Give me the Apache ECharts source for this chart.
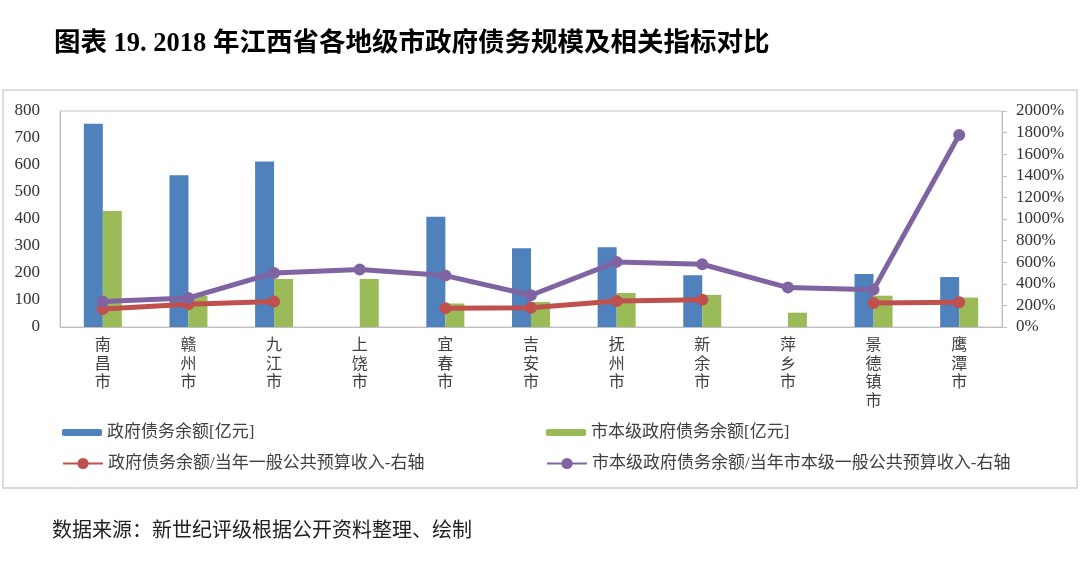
<!DOCTYPE html>
<html>
<head>
<meta charset="utf-8">
<script src="https://cdn.jsdelivr.net/npm/echarts@6/dist/echarts.min.js"></script>
<style>
html,body{margin:0;padding:0;background:#fff;}
#chart{width:1080px;height:570px;}
</style>
</head>
<body>
<div id="chart"></div>
<script>
const categories = ['南昌市','赣州市','九江市','上饶市','宜春市','吉安市','抚州市','新余市','萍乡市','景德镇市','鹰潭市'];
const govDebt = [753, 562, 613, null, 408, 292, 295, 192, null, 196, 185];
const cityDebt = [430, 115, 178, 178, 87, 93, 126, 119, 53, 116, 109];
const govRatio = [167, 210, 235, null, 173, 178, 241, 253, null, 223, 229];
const cityRatio = [235, 269, 500, 532, 476, 294, 603, 581, 365, 346, 1777];
const leftTicks = {min: 0, max: 800, interval: 100};
const rightTicks = {min: 0, max: 2000, interval: 200};

const names = ['政府债务余额[亿元]', '市本级政府债务余额[亿元]', '政府债务余额/当年一般公共预算收入-右轴', '市本级政府债务余额/当年市本级一般公共预算收入-右轴'];
const serif = "'Liberation Serif', 'Noto Sans CJK SC', serif";
const cjk = "'Liberation Serif', 'Noto Sans CJK SC', sans-serif";

const chart = echarts.init(document.getElementById('chart'), null, {renderer: 'canvas'});
const legendText = {fontSize: 17, color: '#404040', fontFamily: cjk};
chart.setOption({
  animation: false,
  backgroundColor: '#fff',
  title: [
    {text: '图表 19. 2018 年江西省各地级市政府债务规模及相关指标对比', left: 54, top: 31, padding: 0,
     textStyle: {fontSize: 26.5, fontWeight: 'bold', color: '#000', fontFamily: serif}},
    {text: '数据来源：新世纪评级根据公开资料整理、绘制', left: 52, top: 522, padding: 0,
     textStyle: {fontSize: 20, fontWeight: 'normal', color: '#222', fontFamily: cjk}}
  ],
  graphic: [
    {type: 'rect', shape: {x: 3, y: 90, width: 1074, height: 398}, style: {fill: 'none', stroke: '#dcdcdc', lineWidth: 2}, z: -1}
  ],
  legend: [
    {data: [names[0]], left: 62, top: 424, padding: 0, itemWidth: 40, itemHeight: 7, itemGap: 4, textStyle: legendText},
    {data: [names[1]], left: 546, top: 424, padding: 0, itemWidth: 40, itemHeight: 7, textStyle: legendText},
    {data: [names[2]], left: 62, top: 455, padding: 0, itemWidth: 40, itemHeight: 14, textStyle: legendText},
    {data: [names[3]], left: 546, top: 455, padding: 0, itemWidth: 40, itemHeight: 14, textStyle: legendText}
  ],
  grid: {left: 60, right: 78, top: 111, bottom: 243, show: true, borderColor: '#c8c8c8', borderWidth: 1, containLabel: false},
  xAxis: {
    type: 'category', data: categories,
    axisLine: {lineStyle: {color: '#bfbfbf'}},
    axisTick: {show: false},
    axisLabel: {
      interval: 0, margin: 10, fontSize: 16, lineHeight: 18.5, color: '#404040', fontFamily: cjk,
      formatter: v => v.split('').join('\n')
    }
  },
  yAxis: [
    {type: 'value', min: leftTicks.min, max: leftTicks.max, interval: leftTicks.interval,
     axisLine: {show: true, lineStyle: {color: '#bfbfbf'}}, axisTick: {show: false}, splitLine: {show: false},
     axisLabel: {fontSize: 17, color: '#333', margin: 20, fontFamily: serif}},
    {type: 'value', position: 'right', min: rightTicks.min, max: rightTicks.max, interval: rightTicks.interval,
     axisLine: {show: true, lineStyle: {color: '#bfbfbf'}}, axisTick: {show: true, length: 5, lineStyle: {color: '#bfbfbf'}},
     splitLine: {show: false},
     axisLabel: {fontSize: 17, color: '#333', margin: 14, fontFamily: serif, formatter: v => v + '%'}}
  ],
  series: [
    {name: names[0], type: 'bar', data: govDebt, barWidth: 19, barGap: '0%', itemStyle: {color: '#4F81BD'}},
    {name: names[1], type: 'bar', data: cityDebt, barWidth: 19, barGap: '0%', itemStyle: {color: '#9BBB59'}},
    {name: names[2], type: 'line', yAxisIndex: 1, data: govRatio, connectNulls: false, symbol: 'circle', symbolSize: 12,
     lineStyle: {width: 5, color: '#C0504D'}, itemStyle: {color: '#C0504D'}},
    {name: names[3], type: 'line', yAxisIndex: 1, data: cityRatio, symbol: 'circle', symbolSize: 12,
     lineStyle: {width: 5, color: '#8064A2'}, itemStyle: {color: '#8064A2'}}
  ]
});
</script>
</body>
</html>
